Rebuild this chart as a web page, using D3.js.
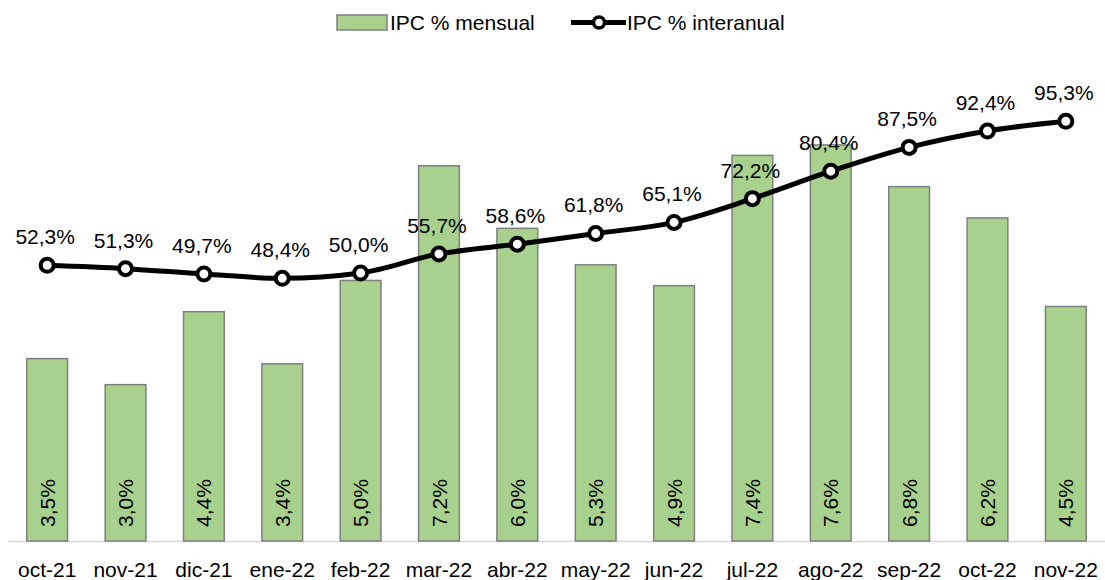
<!DOCTYPE html>
<meta charset="utf-8">
<script src="https://d3js.org/d3.v7.min.js"></script>
<style>
  body { margin: 0; background: #fff; }
  text { font-family: "Liberation Sans", Arial, sans-serif; fill: #000; }
</style>
<div id="my_dataviz"></div>
<script>

// data
var months = ["oct-21","nov-21","dic-21","ene-22","feb-22","mar-22","abr-22","may-22","jun-22","jul-22","ago-22","sep-22","oct-22","nov-22"];
var mensual = [3.5, 3.0, 4.4, 3.4, 5.0, 7.2, 6.0, 5.3, 4.9, 7.4, 7.6, 6.8, 6.2, 4.5];
var interanual = [52.3, 51.3, 49.7, 48.4, 50.0, 55.7, 58.6, 61.8, 65.1, 72.2, 80.4, 87.5, 92.4, 95.3];

var W = 1105, H = 580;
var fmt = function(v) { return v.toFixed(1).replace(".", ",") + "%"; };

var svg = d3.select("#my_dataviz")
  .append("svg")
    .attr("width", W)
    .attr("height", H);

// scales
var x = d3.scaleBand()
  .domain(months)
  .range([8, 1105])
  .paddingInner(0.48)
  .paddingOuter(0.24);

var yBar = d3.scaleLinear()
  .domain([0, 9])
  .range([541, 72]);

var yLine = d3.scaleLinear()
  .domain([-30, 110])
  .range([541, 72]);

// baseline
svg.append("line")
  .attr("x1", 8).attr("x2", 1105)
  .attr("y1", 541.5).attr("y2", 541.5)
  .style("stroke", "#d9d9d9")
  .style("stroke-width", 1.5);

// x axis labels
var xAxis = svg.append("g")
  .attr("transform", "translate(0,541)")
  .call(d3.axisBottom(x).tickSize(0));
xAxis.select(".domain").remove();
xAxis.selectAll("text")
  .attr("y", 36)
  .attr("dy", 0)
  .style("font-size", "21px")
  .style("font-family", "Liberation Sans, Arial, sans-serif");

// bars
svg.append("g")
  .selectAll("rect")
  .data(months)
  .enter()
  .append("rect")
    .attr("x", function(d) { return x(d); })
    .attr("width", x.bandwidth())
    .attr("y", function(d, i) { return yBar(mensual[i]); })
    .attr("height", function(d, i) { return yBar(0) - yBar(mensual[i]); })
    .style("fill", "#a9d18e")
    .style("stroke", "#7f7f7f")
    .style("stroke-width", 1.5);

// rotated labels inside bars
svg.append("g")
  .selectAll("text")
  .data(months)
  .enter()
  .append("text")
    .attr("transform", function(d) {
      return "translate(" + (x(d) + x.bandwidth() / 2) + "," + 527 + ") rotate(-90)";
    })
    .attr("text-anchor", "start")
    .attr("dy", "0.36em")
    .style("font-size", "21px")
    .text(function(d, i) { return fmt(mensual[i]); });

// interannual line
var line = d3.line()
  .x(function(d, i) { return x(months[i]) + x.bandwidth() / 2; })
  .y(function(d) { return yLine(d); })
  .curve(d3.curveMonotoneX);

svg.append("path")
  .datum(interanual)
  .attr("d", line)
  .style("fill", "none")
  .style("stroke", "#000")
  .style("stroke-width", 5);

svg.append("g")
  .selectAll("circle")
  .data(interanual)
  .enter()
  .append("circle")
    .attr("cx", function(d, i) { return x(months[i]) + x.bandwidth() / 2; })
    .attr("cy", function(d) { return yLine(d); })
    .attr("r", 6.5)
    .style("fill", "#fff")
    .style("stroke", "#000")
    .style("stroke-width", 4);

svg.append("g")
  .selectAll("text")
  .data(interanual)
  .enter()
  .append("text")
    .attr("x", function(d, i) { return x(months[i]) + x.bandwidth() / 2 - 2; })
    .attr("y", function(d) { return yLine(d) - 21; })
    .attr("text-anchor", "middle")
    .style("font-size", "21px")
    .text(function(d) { return fmt(d); });

// legend
var legend = svg.append("g");
legend.append("rect")
  .attr("x", 337).attr("y", 15)
  .attr("width", 50).attr("height", 15)
  .style("fill", "#a9d18e")
  .style("stroke", "#7f7f7f")
  .style("stroke-width", 1.5);
legend.append("text")
  .attr("x", 390).attr("y", 30)
  .style("font-size", "21px")
  .text("IPC % mensual");
legend.append("line")
  .attr("x1", 571).attr("x2", 626)
  .attr("y1", 22.5).attr("y2", 22.5)
  .style("stroke", "#000")
  .style("stroke-width", 5);
legend.append("circle")
  .attr("cx", 599).attr("cy", 22.5)
  .attr("r", 5.5)
  .style("fill", "#fff")
  .style("stroke", "#000")
  .style("stroke-width", 3.5);
legend.append("text")
  .attr("x", 627).attr("y", 30)
  .style("font-size", "21px")
  .text("IPC % interanual");

</script>
